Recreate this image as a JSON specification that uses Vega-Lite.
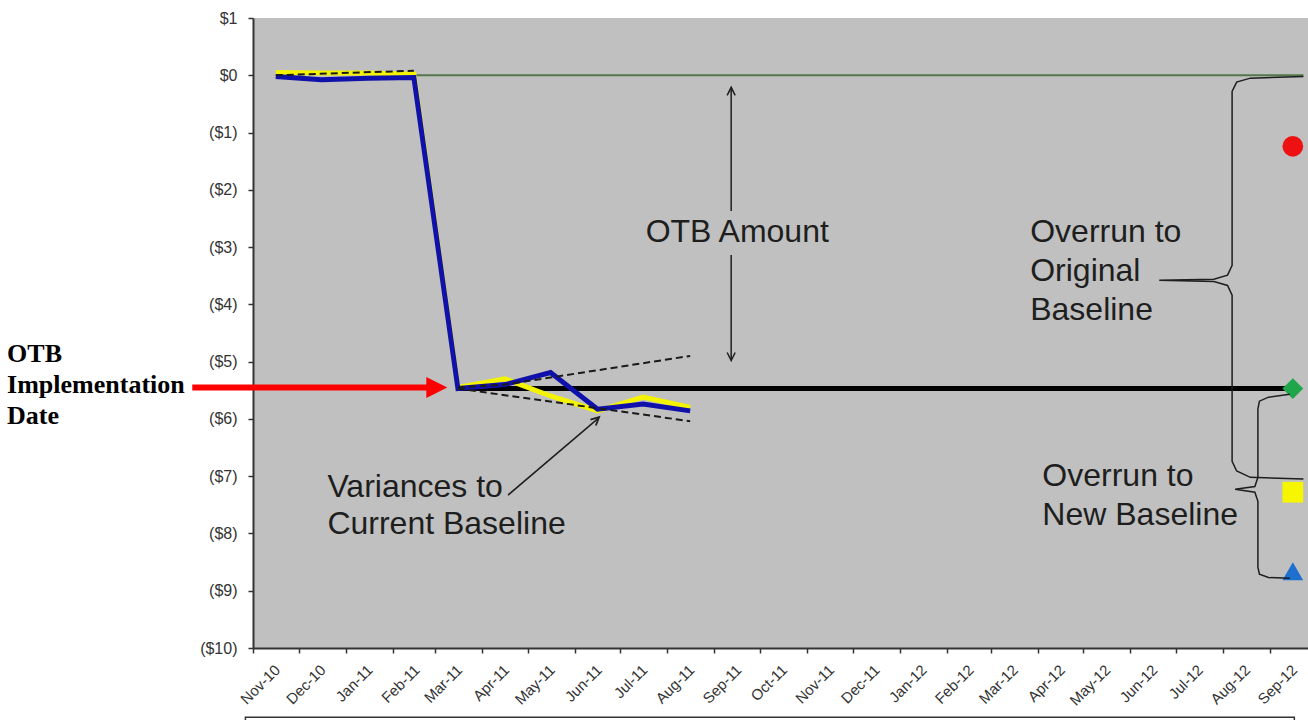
{
  "$schema": "https://vega.github.io/schema/vega-lite/v6.json",
  "width": 1055,
  "height": 630,
  "autosize": {"type": "none"},
  "padding": {"left": 253, "top": 18, "right": 0, "bottom": 72},
  "background": "white",
  "config": {
    "view": {"fill": "#c0c0c0", "stroke": null},
    "font": "Liberation Sans"
  },
  "data": {
    "values": [
      {"series": "Original Baseline", "date": "2011-02-15", "value": 0},
      {"series": "Original Baseline", "date": "2012-09-23", "value": 0},
      {"series": "New Baseline", "date": "2011-03-16", "value": -5.47},
      {"series": "New Baseline", "date": "2012-09-16", "value": -5.47},
      {"series": "Estimate", "date": "2010-11-16", "value": 0.05},
      {"series": "Estimate", "date": "2010-12-16", "value": 0.04},
      {"series": "Estimate", "date": "2011-01-16", "value": 0.04},
      {"series": "Estimate", "date": "2011-02-15", "value": 0.02},
      {"series": "Estimate", "date": "2011-03-16", "value": -5.45},
      {"series": "Estimate", "date": "2011-04-16", "value": -5.3},
      {"series": "Estimate", "date": "2011-05-16", "value": -5.6},
      {"series": "Estimate", "date": "2011-06-16", "value": -5.86},
      {"series": "Estimate", "date": "2011-07-16", "value": -5.62},
      {"series": "Estimate", "date": "2011-08-16", "value": -5.8},
      {"series": "Actual", "date": "2010-11-16", "value": -0.02},
      {"series": "Actual", "date": "2010-12-16", "value": -0.08},
      {"series": "Actual", "date": "2011-01-16", "value": -0.05},
      {"series": "Actual", "date": "2011-02-15", "value": -0.04},
      {"series": "Actual", "date": "2011-03-16", "value": -5.47},
      {"series": "Actual", "date": "2011-04-16", "value": -5.4},
      {"series": "Actual", "date": "2011-05-16", "value": -5.19},
      {"series": "Actual", "date": "2011-06-16", "value": -5.83},
      {"series": "Actual", "date": "2011-07-16", "value": -5.74},
      {"series": "Actual", "date": "2011-08-16", "value": -5.86},
      {"series": "Trend pre", "date": "2010-11-16", "value": 0.0},
      {"series": "Trend pre", "date": "2011-02-15", "value": 0.08},
      {"series": "Trend high", "date": "2011-03-16", "value": -5.45},
      {"series": "Trend high", "date": "2011-04-16", "value": -5.4},
      {"series": "Trend high", "date": "2011-08-16", "value": -4.9},
      {"series": "Trend low", "date": "2011-03-16", "value": -5.47},
      {"series": "Trend low", "date": "2011-08-16", "value": -6.04}
    ]
  },
  "encoding": {
    "x": {
      "field": "date",
      "type": "temporal",
      "scale": {
        "type": "utc",
        "domain": [
          {"year": 2010, "month": 11, "date": 1, "utc": true},
          {"year": 2012, "month": 9, "date": 26, "utc": true}
        ],
        "nice": false
      },
      "axis": {
        "title": null,
        "format": "%b-%y",
        "tickCount": {"interval": "month", "step": 1},
        "labelAngle": -45,
        "labelAlign": "right",
        "labelBaseline": "middle",
        "labelOffset": 24,
        "labelPadding": 14,
        "labelOverlap": false,
        "labelFlush": false,
        "labelBound": false,
        "labelFont": "Liberation Sans",
        "labelFontSize": 15,
        "labelColor": "#333333",
        "tickSize": 5,
        "tickColor": "#333333",
        "tickWidth": 1.5,
        "domainColor": "#333333",
        "domainWidth": 2,
        "grid": false
      }
    },
    "y": {
      "field": "value",
      "type": "quantitative",
      "scale": {"domain": [-10, 1], "nice": false, "zero": false},
      "axis": {
        "title": null,
        "values": [-10, -9, -8, -7, -6, -5, -4, -3, -2, -1, 0, 1],
        "labelExpr": "datum.value > 0 ? '$' + datum.value : (datum.value == 0 ? '$0' : '($' + (-datum.value) + ')')",
        "labelFont": "Liberation Sans",
        "labelFontSize": 16,
        "labelColor": "#333333",
        "labelPadding": 11,
        "tickSize": 5,
        "tickColor": "#333333",
        "tickWidth": 1.5,
        "domainColor": "#333333",
        "domainWidth": 2,
        "grid": false
      }
    }
  },
  "layer": [
    {
      "transform": [{"filter": "datum.series == 'Original Baseline'"}],
      "mark": {"type": "line", "color": "#53774a", "strokeWidth": 2}
    },
    {
      "transform": [{"filter": "datum.series == 'New Baseline'"}],
      "mark": {"type": "line", "color": "#000000", "strokeWidth": 5}
    },
    {
      "transform": [{"filter": "datum.series == 'Estimate'"}],
      "mark": {"type": "line", "color": "#f4f400", "strokeWidth": 5}
    },
    {
      "transform": [{"filter": "datum.series == 'Actual'"}],
      "mark": {"type": "line", "color": "#1010aa", "strokeWidth": 5}
    },
    {
      "transform": [{"filter": "indexof(datum.series, 'Trend') == 0"}],
      "mark": {"type": "line", "color": "#1a1a1a", "strokeWidth": 2, "strokeDash": [7, 4]},
      "encoding": {"detail": {"field": "series"}}
    },
    {
      "data": {
        "values": [
          {"name": "Overrun A", "date": "2012-09-16", "value": -1.24},
          {"name": "New Baseline", "date": "2012-09-16", "value": -5.47},
          {"name": "Overrun B", "date": "2012-09-16", "value": -7.28},
          {"name": "Overrun C", "date": "2012-09-16", "value": -8.66}
        ]
      },
      "mark": {"type": "point", "filled": true, "size": 430, "opacity": 1, "clip": false},
      "encoding": {
        "shape": {
          "field": "name",
          "scale": {
            "domain": ["Overrun A", "New Baseline", "Overrun B", "Overrun C"],
            "range": ["circle", "diamond", "square", "triangle-up"]
          },
          "legend": null
        },
        "color": {
          "field": "name",
          "scale": {
            "domain": ["Overrun A", "New Baseline", "Overrun B", "Overrun C"],
            "range": ["#ee1111", "#1fa64a", "#f6f600", "#1f6fcf"]
          },
          "legend": null
        }
      }
    },
    {
      "data": {
        "values": [
          {"brace": "Original", "order": 1, "date": "2012-09-23", "value": -0.02},
          {"brace": "Original", "order": 2, "date": "2012-08-19", "value": -0.05},
          {"brace": "Original", "order": 3, "date": "2012-08-10", "value": -0.12},
          {"brace": "Original", "order": 4, "date": "2012-08-07", "value": -0.28},
          {"brace": "Original", "order": 5, "date": "2012-08-07", "value": -3.32},
          {"brace": "Original", "order": 6, "date": "2012-08-04", "value": -3.49},
          {"brace": "Original", "order": 7, "date": "2012-07-26", "value": -3.56},
          {"brace": "Original", "order": 8, "date": "2012-06-20", "value": -3.58},
          {"brace": "Original", "order": 9, "date": "2012-07-26", "value": -3.6},
          {"brace": "Original", "order": 10, "date": "2012-08-04", "value": -3.67},
          {"brace": "Original", "order": 11, "date": "2012-08-07", "value": -3.84},
          {"brace": "Original", "order": 12, "date": "2012-08-07", "value": -6.74},
          {"brace": "Original", "order": 13, "date": "2012-08-10", "value": -6.91},
          {"brace": "Original", "order": 14, "date": "2012-08-19", "value": -7.02},
          {"brace": "Original", "order": 15, "date": "2012-09-23", "value": -7.05},
          {"brace": "New", "order": 1, "date": "2012-09-14", "value": -5.57},
          {"brace": "New", "order": 2, "date": "2012-08-31", "value": -5.62},
          {"brace": "New", "order": 3, "date": "2012-08-25", "value": -5.69},
          {"brace": "New", "order": 4, "date": "2012-08-24", "value": -5.83},
          {"brace": "New", "order": 5, "date": "2012-08-24", "value": -7.02},
          {"brace": "New", "order": 6, "date": "2012-08-22", "value": -7.18},
          {"brace": "New", "order": 7, "date": "2012-08-09", "value": -7.23},
          {"brace": "New", "order": 8, "date": "2012-08-22", "value": -7.28},
          {"brace": "New", "order": 9, "date": "2012-08-24", "value": -7.44},
          {"brace": "New", "order": 10, "date": "2012-08-24", "value": -8.59},
          {"brace": "New", "order": 11, "date": "2012-08-25", "value": -8.71},
          {"brace": "New", "order": 12, "date": "2012-08-31", "value": -8.77},
          {"brace": "New", "order": 13, "date": "2012-09-14", "value": -8.78}
        ]
      },
      "mark": {"type": "line", "color": "#1e1e1e", "strokeWidth": 1.5, "clip": false},
      "encoding": {
        "detail": {"field": "brace"},
        "order": {"field": "order", "type": "quantitative"}
      }
    },
    {
      "data": {
        "values": [
          {"date": "2011-09-12", "value": -0.22, "value2": -2.37},
          {"date": "2011-09-12", "value": -3.14, "value2": -4.97}
        ]
      },
      "mark": {"type": "rule", "color": "#1e1e1e", "strokeWidth": 1.5},
      "encoding": {"y2": {"field": "value2"}}
    },
    {
      "data": {
        "values": [
          {"date": "2011-04-18", "date2": "2011-06-16", "value": -7.33, "value2": -6.0}
        ],
        "format": {"parse": {"date": "date", "date2": "date"}}
      },
      "mark": {"type": "rule", "color": "#1e1e1e", "strokeWidth": 1.5},
      "encoding": {"x2": {"field": "date2"}, "y2": {"field": "value2"}}
    },
    {
      "data": {"values": [{"date": "2011-09-12", "value": -0.21}]},
      "mark": {"type": "point", "shape": "M-1,2L0,0L1,2", "filled": false, "size": 64, "color": "#1e1e1e", "strokeWidth": 1.5, "opacity": 1}
    },
    {
      "data": {"values": [{"date": "2011-09-12", "value": -4.98}]},
      "mark": {"type": "point", "shape": "M-1,-2L0,0L1,-2", "filled": false, "size": 64, "color": "#1e1e1e", "strokeWidth": 1.5, "opacity": 1}
    },
    {
      "data": {"values": [{"date": "2011-06-17", "value": -5.97}]},
      "mark": {"type": "point", "shape": "M-1,2L0,0L1,2", "filled": false, "size": 64, "angle": 48, "color": "#1e1e1e", "strokeWidth": 1.8, "opacity": 1}
    },
    {
      "data": {
        "values": [
          {"date": "2010-09-22", "date2": "2011-02-24", "value": -5.45}
        ],
        "format": {"parse": {"date": "date", "date2": "date"}}
      },
      "mark": {"type": "rule", "color": "#ff0000", "strokeWidth": 6, "clip": false},
      "encoding": {"x2": {"field": "date2"}}
    },
    {
      "data": {"values": [{"date": "2011-03-09", "value": -5.45}]},
      "mark": {"type": "point", "shape": "M-2,-1L0,0L-2,1Z", "filled": true, "size": 441, "color": "#ff0000", "opacity": 1}
    },
    {
      "data": {"values": [{"label": "OTB Amount", "date": "2011-09-16", "value": -2.74}]},
      "mark": {"type": "text", "align": "center", "baseline": "middle", "font": "Liberation Sans", "fontSize": 32, "color": "#1e1e1e"},
      "encoding": {"text": {"field": "label"}}
    },
    {
      "data": {
        "values": [
          {"label": "Overrun to\nOriginal\nBaseline", "date": "2012-03-27", "value": -2.74},
          {"label": "Overrun to\nNew Baseline", "date": "2012-04-04", "value": -7.0}
        ]
      },
      "mark": {"type": "text", "align": "left", "baseline": "middle", "lineBreak": "\n", "lineHeight": 39, "font": "Liberation Sans", "fontSize": 32, "color": "#1e1e1e"},
      "encoding": {"text": {"field": "label"}}
    },
    {
      "data": {
        "values": [
          {"label": "Variances to\nCurrent Baseline", "date": "2010-12-20", "value": -7.19}
        ]
      },
      "mark": {"type": "text", "align": "left", "baseline": "middle", "lineBreak": "\n", "lineHeight": 37, "font": "Liberation Sans", "fontSize": 32, "color": "#1e1e1e"},
      "encoding": {"text": {"field": "label"}}
    },
    {
      "data": {"values": [{"label": "OTB\nImplementation\nDate", "date": "2010-05-23", "value": -4.87}]},
      "mark": {"type": "text", "align": "left", "baseline": "middle", "lineBreak": "\n", "lineHeight": 31, "font": "Liberation Serif", "fontWeight": "bold", "fontSize": 26, "color": "#000000", "clip": false},
      "encoding": {"text": {"field": "label"}}
    },
    {
      "data": {
        "values": [
          {"date": "2010-10-27", "date2": "2012-09-17", "value": -11.21, "value2": -11.8}
        ],
        "format": {"parse": {"date": "date", "date2": "date"}}
      },
      "mark": {"type": "rect", "fill": "transparent", "stroke": "#333333", "strokeWidth": 1.5, "clip": false},
      "encoding": {"x2": {"field": "date2"}, "y2": {"field": "value2"}}
    }
  ]
}
